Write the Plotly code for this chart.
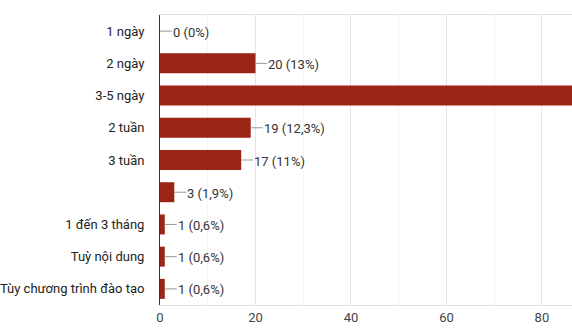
import plotly.graph_objects as go

# Response counts per training duration option
categories = ["1 ngày", "2 ngày", "3-5 ngày", "2 tuần", "3 tuần", "",
              "1 đến 3 tháng", "Tuỳ nội dung", "Tùy chương trình đào tạo"]
counts = [0, 20, 92, 19, 17, 3, 1, 1, 1]
pct_labels = ["0%", "13%", "59,7%", "12,3%", "11%", "1,9%", "0,6%", "0,6%", "0,6%"]

x_ticks = [0, 20, 40, 60, 80]

BAR = "#9b2416"
FONT = "Roboto, Arial, sans-serif"
FSIZE = 13
STEM = 2.5  # stem length in value units

rows = list(range(len(categories)))

fig = go.Figure()
fig.add_trace(go.Bar(
    x=counts, y=rows, orientation="h",
    marker=dict(color=BAR, line=dict(width=0)),
    width=0.62, hoverinfo="skip",
))

# stems connecting bar ends to value labels
for r, v in zip(rows, counts):
    fig.add_trace(go.Scatter(
        x=[v, v + STEM], y=[r, r], mode="lines",
        line=dict(color="#999999", width=1), hoverinfo="skip",
        cliponaxis=False,
    ))

annotations = []
for r, v, p in zip(rows, counts, pct_labels):
    annotations.append(dict(
        x=v + STEM, y=r, xref="x", yref="y", text=f"{v} ({p})",
        showarrow=False, xanchor="left", yanchor="middle", xshift=-1, yshift=-1,
        font=dict(family=FONT, size=FSIZE, color="#333333"),
    ))

fig.update_layout(
    width=572, height=331,
    margin=dict(l=160, r=0, t=15, b=26),
    paper_bgcolor="white", plot_bgcolor="white",
    showlegend=False,
    annotations=annotations,
    font=dict(family=FONT, size=FSIZE, color="#333333"),
)
fig.update_xaxes(
    range=[0, 86.3], tickvals=x_ticks, ticktext=[str(t) for t in x_ticks],
    showgrid=True, gridcolor="#e6e6e6", gridwidth=1,
    minor=dict(dtick=10, tick0=0, showgrid=True, gridcolor="#f3f3f3", gridwidth=1),
    showline=True, linecolor="#e0e0e0", mirror=True,
    zeroline=False, ticks="", ticklen=0, automargin=False,
    tickfont=dict(family=FONT, size=FSIZE, color="#444444"),
)
fig.update_yaxes(
    tickvals=rows, ticktext=categories, autorange=False, range=[len(rows) - 0.5, -0.5],
    showgrid=False, zeroline=False, automargin=False,
    showline=True, linecolor="#333333", linewidth=1,
    ticks="", ticklabelstandoff=12,
    tickfont=dict(family=FONT, size=FSIZE, color="#222222"),
)

fig.write_html("out.html")
